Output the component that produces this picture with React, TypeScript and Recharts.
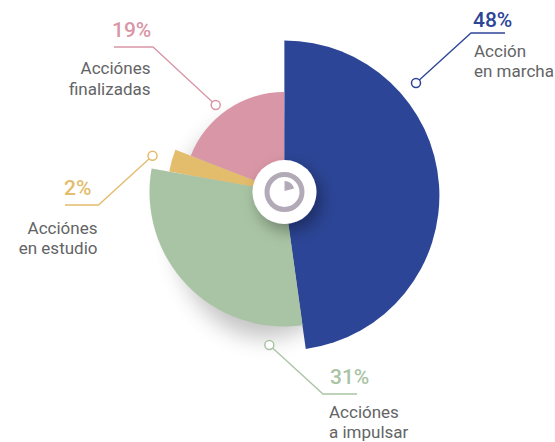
import { PieChart, Pie, Cell, Sector } from "recharts";

const categories = ["Acción en marcha", "Acciónes a impulsar", "Acciónes en estudio", "Acciónes finalizadas"];
// share of the circle each wedge really takes in the picture (the printed labels are rounded differently)
const wedgeShares = [47.8, 30, 3.1, 19.1];
const percentLabels = ["48%", "31%", "2%", "19%"];
const labelLines = [
  ["Acción", "en marcha"],
  ["Acciónes", "a impulsar"],
  ["Acciónes", "en estudio"],
  ["Acciónes", "finalizadas"],
];

const colors = ["#2c4596", "#a9c4a4", "#e3bc6c", "#d996a6"];
const TEXT_GREY = "#636466";
const RING_GREY = "#b3aab8";

// look of each wedge: own radius and a slightly different centre
const wedgeLayout = [
  { cx: 284.4, cy: 195.5, r: 155 },
  { cx: 284, cy: 192, r: 134.5 },
  { cx: 284, cy: 192, r: 116.5 },
  { cx: 284, cy: 192, r: 100 },
];

// callout geometry: dot, elbow, end of the rule, text anchors
const callouts = [
  { dot: [416, 83], elbow: [471, 33], end: [505, 33], pctX: 473, pctY: 27, textX: 474, textY: [57, 77], anchor: "start" },
  { dot: [269.3, 345], elbow: [323, 394], end: [357, 394], pctX: 330, pctY: 384, textX: 329, textY: [418, 438], anchor: "start" },
  { dot: [152.5, 155.7], elbow: [98.5, 205], end: [65, 205], pctX: 64, pctY: 195, textX: 97.5, textY: [234, 254], anchor: "end" },
  { dot: [215.7, 105], elbow: [153, 47], end: [114, 47], pctX: 112, pctY: 37, textX: 150.5, textY: [74, 95], anchor: "end" },
];

const rows = categories.map((name, i) => ({ name, value: wedgeShares[i] }));

function startAngle(i: number) {
  const before = wedgeShares.slice(0, i).reduce((a, b) => a + b, 0);
  const total = wedgeShares.reduce((a, b) => a + b, 0);
  return 90 - (before / total) * 360;
}

const layer = { position: "absolute", left: 0, top: 0 } as const;

export default function App() {
  return (
    <div style={{ ...layer, width: 555, height: 442, background: "#fff", fontFamily: "Roboto" }}>
      {/* soft shadow under the green wedge */}
      <svg width={555} height={442} style={layer}>
        <defs>
          <filter id="soft" x="-40%" y="-40%" width="180%" height="180%">
            <feGaussianBlur stdDeviation="11" />
          </filter>
        </defs>
        <ellipse cx={266} cy={226} rx={92} ry={112} fill="#000" opacity={0.23} filter="url(#soft)" />
      </svg>

      <div style={layer}>
        <PieChart width={555} height={442} margin={{ top: 0, right: 0, bottom: 0, left: 0 }}>
          {rows.map((row, i) => (
            <Pie
              key={row.name}
              data={[row]}
              dataKey="value"
              cx={wedgeLayout[i].cx}
              cy={wedgeLayout[i].cy}
              innerRadius={0}
              outerRadius={wedgeLayout[i].r}
              startAngle={startAngle(i)}
              endAngle={startAngle(i + 1)}
              stroke="none"
              isAnimationActive={false}
            >
              <Cell fill={colors[i]} />
            </Pie>
          ))}
        </PieChart>
      </div>

      <svg width={555} height={442} style={layer}>
        <defs>
          <filter id="hub" x="-50%" y="-50%" width="200%" height="200%">
            <feDropShadow dx="5" dy="7" stdDeviation="8" floodColor="#000" floodOpacity="0.35" />
          </filter>
        </defs>

        <circle cx={284.5} cy={192} r={32} fill="#fff" filter="url(#hub)" />
        <circle cx={284.5} cy={192} r={17.5} fill="none" stroke={RING_GREY} strokeWidth={5} />
        <Sector cx={284.5} cy={191} innerRadius={0} outerRadius={10} startAngle={90} endAngle={15} fill={RING_GREY} />

        {callouts.map((c, i) => (
          <g key={categories[i]}>
            <polyline
              points={`${c.dot[0]},${c.dot[1]} ${c.elbow[0]},${c.elbow[1]} ${c.end[0]},${c.end[1]}`}
              fill="none"
              stroke={colors[i]}
              strokeWidth={1.3}
            />
            <circle cx={c.dot[0]} cy={c.dot[1]} r={4.5} fill="#fff" stroke={colors[i]} strokeWidth={1.5} />
            <text x={c.pctX} y={c.pctY} fontSize={21} fontWeight={500} fill={colors[i]}>
              {percentLabels[i]}
            </text>
            {labelLines[i].map((line, j) => (
              <text key={line} x={c.textX} y={c.textY[j]} fontSize={17} fill={TEXT_GREY} textAnchor={c.anchor}>
                {line}
              </text>
            ))}
          </g>
        ))}
      </svg>
    </div>
  );
}
